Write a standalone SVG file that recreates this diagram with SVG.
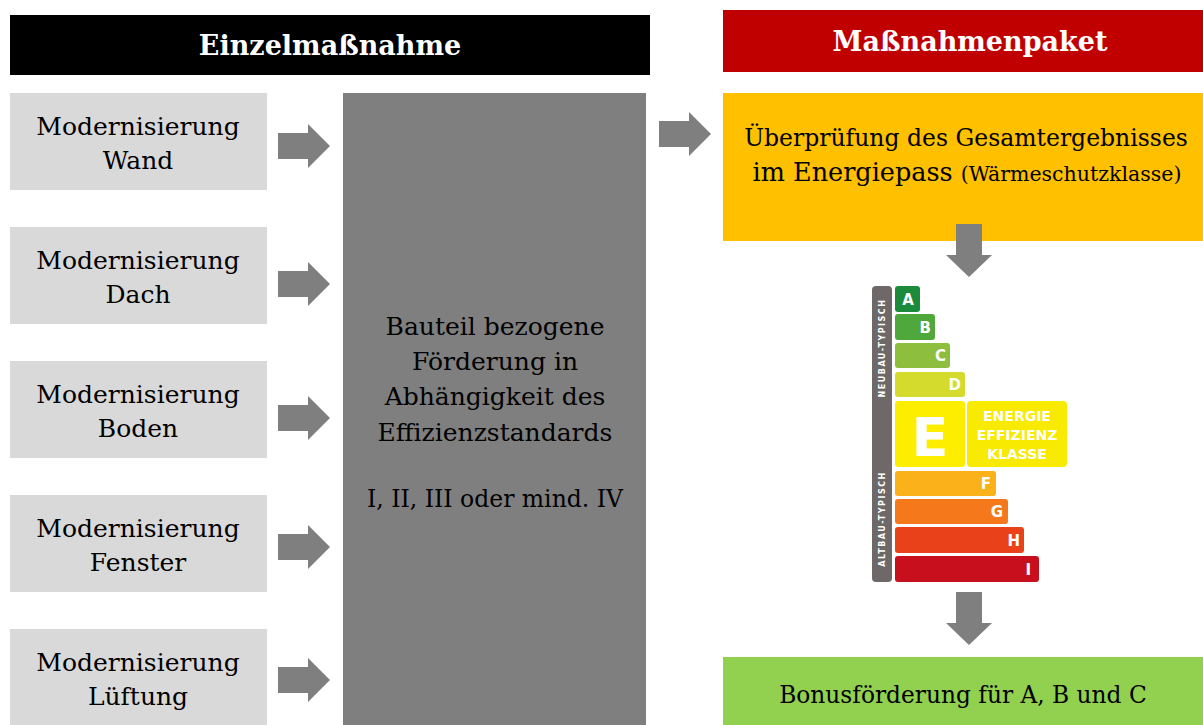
<svg xmlns="http://www.w3.org/2000/svg" width="1203" height="725" viewBox="0 0 1203 725">
<style>
.t{font-family:"DejaVu Serif","Liberation Serif",serif;font-size:25px;fill:#000;text-anchor:middle}
.h{font-family:"DejaVu Serif","Liberation Serif",serif;font-size:27px;font-weight:bold;fill:#fff;text-anchor:middle}
.lb{font-family:"DejaVu Sans","Liberation Sans",sans-serif;font-weight:bold;fill:#fff}
.box{fill:#d9d9d9}
.arr{fill:#7f7f7f}
</style>
<defs>
<path id="ar" d="M0,-13 H30 V-22 L52,0 L30,22 V13 H0 Z"/>
<path id="ad" d="M-13,0 V31 H-23 L0,53 L23,31 H13 V0 Z"/>
</defs>
<rect width="1203" height="725" fill="#fff"/>
<g id="header-left"><rect x="10" y="15" width="640" height="60" fill="#000"/><text class="h" x="330" y="55">Einzelmaßnahme</text></g>
<g id="header-right"><rect x="723" y="10" width="480" height="62" fill="#c00000"/><text class="h" x="970" y="51">Maßnahmenpaket</text></g>
<g id="n-wand"><rect class="box" x="10" y="93" width="257" height="97"/><text class="t" x="138" y="135">Modernisierung</text><text class="t" x="138" y="169">Wand</text></g>
<g id="n-dach"><rect class="box" x="10" y="227" width="257" height="97"/><text class="t" x="138" y="269">Modernisierung</text><text class="t" x="138" y="303">Dach</text></g>
<g id="n-boden"><rect class="box" x="10" y="361" width="257" height="97"/><text class="t" x="138" y="403">Modernisierung</text><text class="t" x="138" y="437">Boden</text></g>
<g id="n-fenster"><rect class="box" x="10" y="495" width="257" height="97"/><text class="t" x="138" y="537">Modernisierung</text><text class="t" x="138" y="571">Fenster</text></g>
<g id="n-lueftung"><rect class="box" x="10" y="629" width="257" height="96"/><text class="t" x="138" y="671">Modernisierung</text><text class="t" x="138" y="705">Lüftung</text></g>
<g id="n-foerderung"><rect x="343" y="93" width="303" height="632" fill="#7f7f7f"/>
<text class="t" x="495" y="335">Bauteil bezogene</text>
<text class="t" x="495" y="370">Förderung in</text>
<text class="t" x="495" y="405">Abhängigkeit des</text>
<text class="t" x="495" y="441">Effizienzstandards</text>
<text class="t" x="495" y="507" style="font-size:23.5px">I, II, III oder mind. IV</text></g>
<g id="n-pruefung"><rect x="723" y="93" width="480" height="148" fill="#ffc000"/>
<text class="t" x="966" y="146" style="font-size:23.5px">Überprüfung des Gesamtergebnisses</text>
<text class="t" x="967" y="181" style="font-size:25.5px">im Energiepass <tspan style="font-size:20.5px">(Wärmeschutzklasse)</tspan></text></g>
<g id="n-label">
<rect x="872" y="286" width="20" height="296" rx="4" fill="#6e6868"/>
<text class="lb" font-size="8" letter-spacing="1.5" text-anchor="middle" transform="translate(885,348) rotate(-90)" fill="#ddd">NEUBAU-TYPISCH</text>
<text class="lb" font-size="8" letter-spacing="1.5" text-anchor="middle" transform="translate(885,519) rotate(-90)" fill="#ddd">ALTBAU-TYPISCH</text>
<rect x="895" y="286" width="25" height="26" rx="3" fill="#1b8b3b"/><text class="lb" font-size="15" x="908" y="305" text-anchor="middle">A</text>
<rect x="895" y="314" width="40" height="26" rx="3" fill="#4ea83c"/><text class="lb" font-size="15" x="931" y="333" text-anchor="end">B</text>
<rect x="895" y="343" width="55" height="25" rx="3" fill="#8dbe3e"/><text class="lb" font-size="15" x="946" y="361" text-anchor="end">C</text>
<rect x="895" y="372" width="70" height="25" rx="3" fill="#d5db2d"/><text class="lb" font-size="15" x="961" y="390" text-anchor="end">D</text>
<rect x="895" y="401" width="70" height="66" rx="3" fill="#fdee00"/><text class="lb" font-size="54" x="930" y="456" text-anchor="middle">E</text>
<rect x="967" y="401" width="100" height="66" rx="4" fill="#f8ea00"/>
<text class="lb" font-size="14" x="1017" y="421" text-anchor="middle">ENERGIE</text>
<text class="lb" font-size="14" x="1017" y="440" text-anchor="middle">EFFIZIENZ</text>
<text class="lb" font-size="14" x="1017" y="459" text-anchor="middle">KLASSE</text>
<rect x="895" y="471" width="101" height="25" rx="3" fill="#fbb11a"/><text class="lb" font-size="15" x="991" y="489" text-anchor="end">F</text>
<rect x="895" y="499" width="113" height="25" rx="3" fill="#f5781b"/><text class="lb" font-size="15" x="1003" y="517" text-anchor="end">G</text>
<rect x="895" y="527" width="129" height="26" rx="3" fill="#e9411a"/><text class="lb" font-size="15" x="1020" y="546" text-anchor="end">H</text>
<rect x="895" y="556" width="144" height="26" rx="3" fill="#c70f1e"/><text class="lb" font-size="15" x="1031" y="575" text-anchor="end">I</text>
</g>
<g id="n-bonus"><rect x="723" y="657" width="480" height="68" fill="#92d050"/><text class="t" x="963" y="703" style="font-size:23.3px">Bonusförderung für A, B und C</text></g>
<g id="connectors" class="arr">
<use href="#ar" x="278" y="146"/>
<use href="#ar" x="278" y="284"/>
<use href="#ar" x="278" y="418"/>
<use href="#ar" x="278" y="547"/>
<use href="#ar" x="278" y="680"/>
<use href="#ar" x="659" y="134"/>
<use href="#ad" x="969" y="224"/>
<use href="#ad" x="969" y="592"/>
</g>
</svg>
